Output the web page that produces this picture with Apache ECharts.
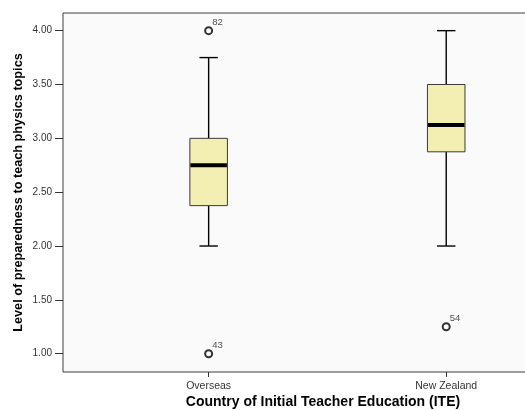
<!DOCTYPE html>
<html>
<head>
<meta charset="utf-8">
<script src="https://cdn.jsdelivr.net/npm/echarts@6/dist/echarts.min.js"></script>
<style>
  html, body { margin: 0; padding: 0; background: #ffffff; }
  #chart { width: 525px; height: 410px; }
</style>
</head>
<body>
<div id="chart"></div>
<script>
// ---- data ----
const categories = ['Overseas', 'New Zealand'];
const whiskerLow  = [2.0, 2.0];
const q1Values    = [2.375, 2.875];
const medians     = [2.75, 3.125];
const q3Values    = [3.0, 3.5];
const whiskerHigh = [3.75, 4.0];

const outlierCategory = [0, 0, 1];
const outlierValue    = [4.0, 1.0, 1.25];
const outlierCase     = ['82', '43', '54'];

const yTickValues = [1.0, 1.5, 2.0, 2.5, 3.0, 3.5, 4.0];
const xTickValues = [0, 1];

const xTitle = 'Country of Initial Teacher Education (ITE)';
const yTitle = 'Level of preparedness to teach physics topics';

// ---- build series data ----
const boxData = categories.map((c, i) => [i, whiskerLow[i], q1Values[i], medians[i], q3Values[i], whiskerHigh[i]]);
const outlierData = outlierCategory.map((c, i) => ({ value: [c, outlierValue[i]], name: outlierCase[i] }));

const FONT = '"Liberation Sans", Arial, sans-serif';

const chart = echarts.init(document.getElementById('chart'), null, { renderer: 'canvas' });

function renderBox(params, api) {
  const x = api.value(0);
  const lo = api.coord([x, api.value(1)]);
  const q1 = api.coord([x, api.value(2)]);
  const md = api.coord([x, api.value(3)]);
  const q3 = api.coord([x, api.value(4)]);
  const hi = api.coord([x, api.value(5)]);
  const unit = api.size([1, 0])[0];
  const bw = unit * 0.158;
  const cw = unit * 0.0775;
  const cx = lo[0];
  const lineStyle = { stroke: '#000', lineWidth: 1.4 };
  return {
    type: 'group',
    children: [
      { type: 'line', shape: { x1: cx, y1: hi[1], x2: cx, y2: q3[1] }, style: lineStyle },
      { type: 'line', shape: { x1: cx, y1: q1[1], x2: cx, y2: lo[1] }, style: lineStyle },
      { type: 'line', shape: { x1: cx - cw / 2, y1: hi[1], x2: cx + cw / 2, y2: hi[1] }, style: lineStyle },
      { type: 'line', shape: { x1: cx - cw / 2, y1: lo[1], x2: cx + cw / 2, y2: lo[1] }, style: lineStyle },
      { type: 'rect', shape: { x: cx - bw / 2, y: q3[1], width: bw, height: q1[1] - q3[1] },
        style: { fill: '#f3efb2', stroke: '#3a3a3a', lineWidth: 1 } },
      { type: 'line', shape: { x1: cx - bw / 2 + 0.5, y1: md[1], x2: cx + bw / 2 - 0.5, y2: md[1] },
        style: { stroke: '#000', lineWidth: 4 } }
    ]
  };
}

const option = {
  animation: false,
  backgroundColor: '#ffffff',
  grid: {
    left: 63, top: 13, right: -2, bottom: 38,
    outerBoundsMode: 'none',
    containLabel: false,
    show: true, backgroundColor: '#fafafa', borderColor: '#3c3c3c', borderWidth: 1
  },
  xAxis: {
    type: 'value',
    min: -0.613, max: 1.34,
    splitLine: { show: false },
    axisLine: { show: false, onZero: false },
    axisTick: { show: true, length: 5, customValues: xTickValues, lineStyle: { color: '#333' } },
    axisLabel: {
      customValues: xTickValues,
      formatter: v => categories[Math.round(v)] || '',
      color: '#333', fontFamily: FONT, fontSize: 10.5, margin: 9
    },
    name: xTitle,
    nameLocation: 'middle',
    nameMoveOverlap: false,
    nameGap: 23,
    nameTextStyle: { fontFamily: FONT, fontWeight: 'bold', fontSize: 14, color: '#000', padding: [0, 0, 0, 56] }
  },
  yAxis: {
    type: 'value',
    min: 0.83, max: 4.164,
    splitLine: { show: false },
    axisLine: { show: false, onZero: false },
    axisTick: { show: true, length: 8, customValues: yTickValues, lineStyle: { color: '#333' } },
    axisLabel: {
      customValues: yTickValues,
      formatter: v => v.toFixed(2),
      color: '#333', fontFamily: FONT, fontSize: 10, margin: 11
    },
    name: yTitle,
    nameLocation: 'middle',
    nameMoveOverlap: false,
    nameGap: 38,
    nameTextStyle: { fontFamily: FONT, fontWeight: 'bold', fontSize: 12.7, color: '#000' }
  },
  series: [
    {
      type: 'custom',
      renderItem: renderBox,
      data: boxData,
      encode: { x: 0, y: [1, 2, 3, 4, 5] },
      z: 2
    },
    {
      type: 'scatter',
      data: outlierData,
      symbol: 'circle',
      symbolSize: 7,
      itemStyle: { color: '#fafafa', borderColor: '#000', borderWidth: 2 },
      label: {
        show: true,
        formatter: p => p.name,
        position: [8, -9],
        fontFamily: FONT, fontSize: 9.5, color: '#222'
      },
      z: 3
    }
  ]
};

chart.setOption(option);
</script>
</body>
</html>
